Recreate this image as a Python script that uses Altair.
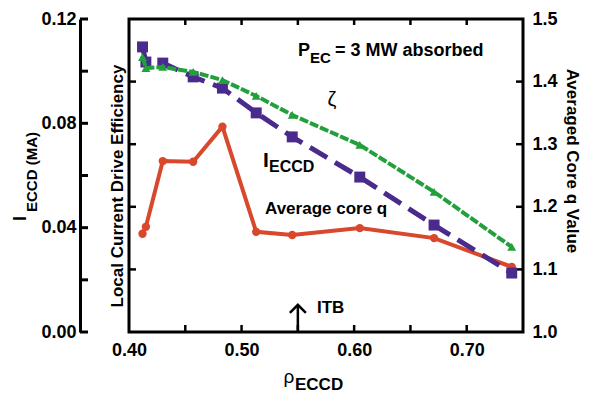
import altair as alt
import pandas as pd

# ---- data ----
rho = [0.412, 0.415, 0.430, 0.457, 0.483, 0.513, 0.545, 0.605, 0.671, 0.740]
i_eccd = [0.1093, 0.1035, 0.1031, 0.0978, 0.0935, 0.0840, 0.0748, 0.0594, 0.0410, 0.0226]
zeta = [0.1054, 0.1012, 0.1016, 0.0997, 0.0966, 0.0905, 0.0832, 0.0717, 0.0537, 0.0326]
core_q = [1.157, 1.168, 1.273, 1.272, 1.328, 1.160, 1.155, 1.166, 1.150, 1.104]

x_labels = [0.40, 0.50, 0.60, 0.70]
x_minor = [0.45, 0.50, 0.55, 0.60, 0.65, 0.70]
left_labels = [0.00, 0.04, 0.08, 0.12]
left_ticks = [0.00, 0.02, 0.04, 0.06, 0.08, 0.10, 0.12]
right_labels = [1.0, 1.1, 1.2, 1.3, 1.4, 1.5]
right_inner = [1.1, 1.2, 1.3, 1.4]
itb_rho = [0.55]

FONT = "Liberation Sans"
PURPLE = "#4A2A8C"
GREEN = "#22A03C"
RED = "#D8482C"

df = pd.DataFrame({"rho": rho, "i": i_eccd, "zeta": zeta, "q": core_q})

xs = alt.Scale(domain=[0.40, 0.75], nice=False, zero=False)
yl = alt.Scale(domain=[0.0, 0.12], nice=False, zero=False)
yr = alt.Scale(domain=[1.0, 1.5], nice=False, zero=False)

AX = alt.Axis(values=x_labels, format=".2f", title="", tickSize=0, labelPadding=9,
              labelFlush=False, domain=False, grid=False, labelFont=FONT,
              labelFontSize=18, labelFontWeight="bold", labelColor="black")
AYL = alt.Axis(orient="left", offset=49, values=left_labels, format=".2f", title="",
               tickSize=0, labelPadding=4, labelFlush=False, domain=True,
               domainColor="black", domainWidth=3, grid=False, labelFont=FONT,
               labelFontSize=18, labelFontWeight="bold", labelColor="black")
AYR = alt.Axis(orient="right", values=right_labels, format=".1f", title="",
               tickSize=0, labelPadding=9, labelFlush=False, domain=False,
               grid=False, labelFont=FONT, labelFontSize=18,
               labelFontWeight="bold", labelColor="black")

X = alt.X("rho:Q", scale=xs, axis=AX)

# ---- right-scale layer (average core q) ----
red_line = alt.Chart(df).mark_line(color=RED, strokeWidth=4).encode(
    x=X, y=alt.Y("q:Q", scale=yr, axis=AYR))
red_pts = alt.Chart(df).mark_point(color=RED, filled=True, opacity=1, size=70,
                                   shape="circle").encode(
    x=X, y=alt.Y("q:Q", scale=yr, axis=AYR))
rt = pd.DataFrame({"v": right_inner})
inner_left = alt.Chart(rt).mark_rule(color="black", strokeWidth=2.5).encode(
    x=alt.value(0), x2=alt.value(7), y=alt.Y("v:Q", scale=yr, axis=AYR))
inner_right = alt.Chart(rt).mark_rule(color="black", strokeWidth=2.5).encode(
    x=alt.value(387), x2=alt.value(394), y=alt.Y("v:Q", scale=yr, axis=AYR))
right = alt.layer(red_line, red_pts, inner_left, inner_right)

# ---- left-scale layer ----
YL_I = alt.Y("i:Q", scale=yl, axis=AYL)
YL_Z = alt.Y("zeta:Q", scale=yl, axis=AYL)
pur_line = alt.Chart(df).mark_line(color=PURPLE, strokeWidth=5,
                                   strokeDash=[20, 9]).encode(x=X, y=YL_I)
pur_pts = alt.Chart(df).mark_point(color=PURPLE, filled=True, opacity=1, size=120,
                                   shape="square").encode(x=X, y=YL_I)
grn_line = alt.Chart(df).mark_line(color=GREEN, strokeWidth=4,
                                   strokeDash=[9, 2]).encode(x=X, y=YL_Z)
grn_pts = alt.Chart(df).mark_point(color=GREEN, filled=True, opacity=1, size=80,
                                   shape="triangle-up").encode(x=X, y=YL_Z)

lt = pd.DataFrame({"v": left_ticks})
outer_ticks = alt.Chart(lt).mark_rule(color="black", strokeWidth=3).encode(
    x=alt.value(-49), x2=alt.value(-41), y=alt.Y("v:Q", scale=yl, axis=AYL))

xm = pd.DataFrame({"rho": x_minor})
bot_ticks = alt.Chart(xm).mark_rule(color="black", strokeWidth=2.5).encode(
    x=X, y=alt.value(306), y2=alt.value(313))
top_ticks = alt.Chart(xm).mark_rule(color="black", strokeWidth=2.5).encode(
    x=X, y=alt.value(0), y2=alt.value(6))

itb = pd.DataFrame({"rho": itb_rho, "y0": [0.0], "y1": [0.0104]})
itb_shaft = alt.Chart(itb).mark_rule(color="black", strokeWidth=2.5).encode(
    x=X, y=alt.Y("y0:Q", scale=yl, axis=AYL), y2="y1:Q")
itb_head = alt.Chart(itb).mark_point(shape="M -1 1 L 0 0 L 1 1", filled=False,
                                     color="black", strokeWidth=2.5, size=256,
                                     opacity=1).encode(
    x=X, y=alt.Y("y1:Q", scale=yl, axis=AYL))


def txt(s, x, y, size, weight="bold", align="left", baseline="alphabetic", angle=0):
    return alt.Chart(pd.DataFrame({"t": [s]})).mark_text(
        font=FONT, fontSize=size, fontWeight=weight, align=align,
        baseline=baseline, angle=angle, color="black").encode(
        text="t:N", x=alt.value(x), y=alt.value(y))


labels = [
    txt("P", 169, 37, 18),
    txt("EC", 181, 44, 15),
    txt("= 3 MW absorbed", 206, 37, 18),
    txt("ζ", 203, 81, 20, weight="normal", align="center", baseline="middle"),
    txt("I", 134, 148, 21),
    txt("ECCD", 140, 153, 16),
    txt("Average core q", 136, 195, 17),
    txt("ITB", 188, 294, 17),
    txt("Local Current Drive Efficiency", -11, 167, 17, align="center",
        baseline="middle", angle=270),
    txt("I", -108, 202, 18, align="left", baseline="middle", angle=270),
    txt("ECCD (MA)", -97, 193, 15, align="left", baseline="middle", angle=270),
    txt("Averaged Core q Value", 443, 142, 17, align="center",
        baseline="middle", angle=90),
    txt("ρ", 160, 358, 19, weight="normal", align="center", baseline="middle"),
    txt("ECCD", 166, 371, 17),
]

left = alt.layer(pur_line, pur_pts, grn_line, grn_pts, outer_ticks, bot_ticks,
                 top_ticks, itb_shaft, itb_head, *labels)

chart = alt.layer(right, left).resolve_scale(y="independent").properties(
    width=394, height=313,
    padding={"left": 129, "top": 19, "right": 68, "bottom": 62},
    autosize=alt.AutoSizeParams(type="none"),
    background="white",
).configure_view(stroke="black", strokeWidth=3)

chart.save("out.html", embed_options={"renderer": "svg", "actions": False})
